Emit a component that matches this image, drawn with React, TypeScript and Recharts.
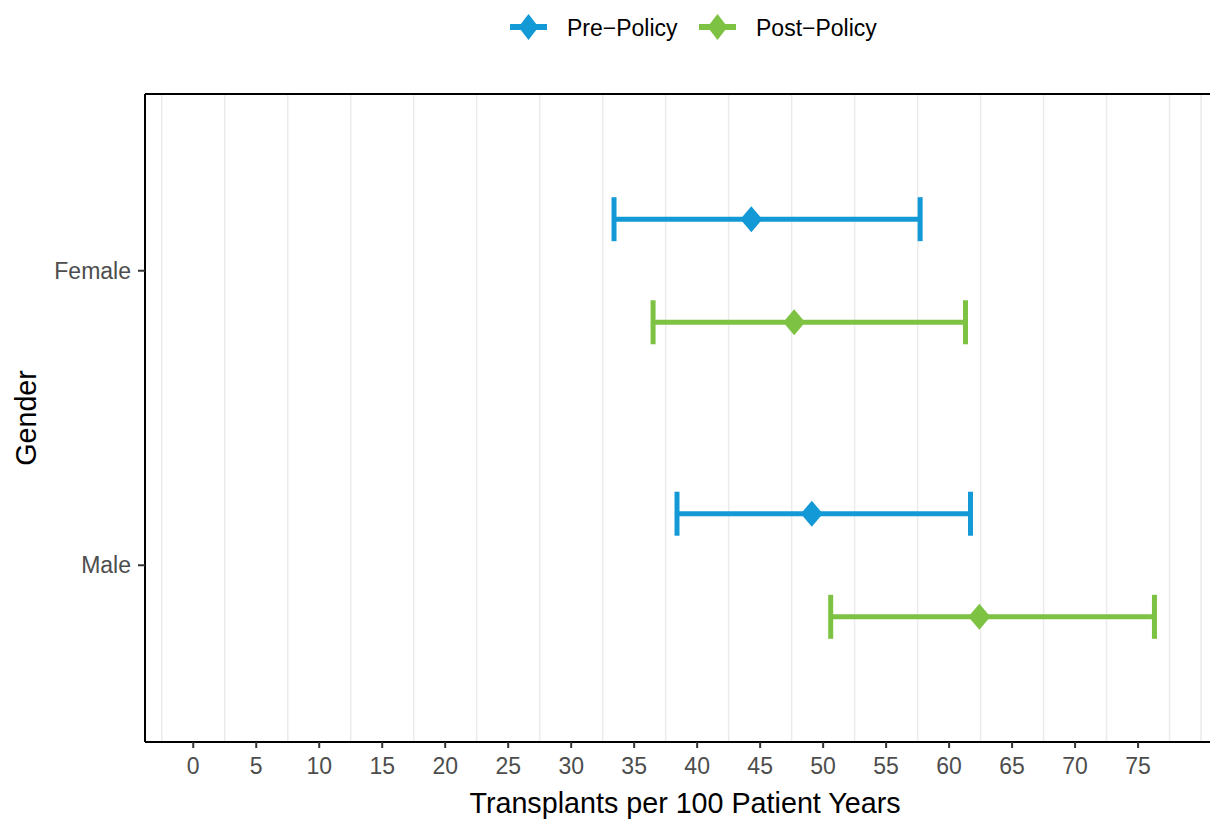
import {
  ScatterChart,
  Scatter,
  XAxis,
  YAxis,
  ErrorBar,
  ReferenceLine,
} from 'recharts';

// values
const genders = ['Female', 'Male'];
const preMean = [44.3, 49.1];
const preLow = [33.4, 38.4];
const preHigh = [57.7, 61.7];
const postMean = [47.7, 62.4];
const postLow = [36.5, 50.6];
const postHigh = [61.3, 76.3];

const xTicks = [0, 5, 10, 15, 20, 25, 30, 35, 40, 45, 50, 55, 60, 65, 70, 75];
const gridValues = [-2.5, 2.5, 7.5, 12.5, 17.5, 22.5, 27.5, 32.5, 37.5, 42.5, 47.5, 52.5, 57.5, 62.5, 67.5, 72.5, 77.5, 80];

const PRE_COLOR = '#139ad6';
const POST_COLOR = '#7dc242';
const FONT = '"Liberation Sans", Arial, Helvetica, sans-serif';

// Female on top, Male below; dodge like position_dodge(0.35)
const genderPos = (i: number) => genders.length - i;
const DODGE = 0.175;

const buildRows = (mean: number[], low: number[], high: number[], shift: number) =>
  genders.map((g, i) => ({
    gender: g,
    x: mean[i],
    y: genderPos(i) + shift,
    err: [mean[i] - low[i], high[i] - mean[i]],
  }));

const preData = buildRows(preMean, preLow, preHigh, DODGE);
const postData = buildRows(postMean, postLow, postHigh, -DODGE);

const Diamond = (color: string) => (props: any) => {
  const { cx, cy } = props;
  if (cx == null || cy == null) return null;
  return (
    <polygon
      points={`${cx},${cy - 13} ${cx + 11},${cy} ${cx},${cy + 13} ${cx - 11},${cy}`}
      fill={color}
    />
  );
};

function LegendKey({ x, color, label }: { x: number; color: string; label: string }) {
  return (
    <g>
      <line x1={x} y1={27} x2={x + 37} y2={27} stroke={color} strokeWidth={6} />
      <polygon
        points={`${x + 18.5},${14} ${x + 28.5},${27} ${x + 18.5},${40} ${x + 8.5},${27}`}
        fill={color}
      />
      <text x={x + 57} y={35.5} fontSize={23} fill="#000" fontFamily={FONT}>
        {label}
      </text>
    </g>
  );
}

export default function App() {
  return (
    <div
      style={{
        position: 'absolute',
        left: 0,
        top: 0,
        width: 1210,
        height: 819,
        overflow: 'hidden',
        background: '#fff',
        fontFamily: FONT,
      }}
    >
      <svg width={1210} height={60} style={{ position: 'absolute', left: 0, top: 0 }}>
        <LegendKey x={510} color={PRE_COLOR} label="Pre−Policy" />
        <LegendKey x={699} color={POST_COLOR} label="Post−Policy" />
      </svg>
      <div style={{ position: 'absolute', left: 0, top: 0 }}>
        <ScatterChart
          width={1240}
          height={819}
          margin={{ top: 94, right: 15, bottom: 0, left: 0 }}
        >
          {gridValues.map((v) => (
            <ReferenceLine key={v} x={v} stroke="#ebebeb" strokeWidth={1.5} />
          ))}
          <ReferenceLine y={2.6} stroke="#000" strokeWidth={2} />
          <XAxis
            type="number"
            dataKey="x"
            domain={[-3.83, 81.9]}
            allowDataOverflow
            ticks={xTicks}
            interval={0}
            height={77}
            axisLine={{ stroke: '#000', strokeWidth: 2 }}
            tickLine={{ stroke: '#333', strokeWidth: 2 }}
            tickSize={6}
            tickMargin={10}
            tick={{ fill: '#4d4d4d', fontSize: 23, fontFamily: FONT }}
            label={{
              value: 'Transplants per 100 Patient Years',
              position: 'insideBottom',
              offset: 6,
              fill: '#000',
              fontSize: 28.7,
              fontFamily: FONT,
            }}
          />
          <YAxis
            type="number"
            dataKey="y"
            domain={[0.4, 2.6]}
            allowDataOverflow
            ticks={[2, 1]}
            interval={0}
            width={145}
            axisLine={{ stroke: '#000', strokeWidth: 2 }}
            tickLine={{ stroke: '#333', strokeWidth: 2 }}
            tickSize={7}
            tickMargin={7}
            tickFormatter={(v: number) => genders[genders.length - v] ?? ''}
            tick={{ fill: '#4d4d4d', fontSize: 23, fontFamily: FONT }}
            label={{
              value: 'Gender',
              angle: -90,
              position: 'insideLeft',
              offset: 26,
              style: { textAnchor: 'middle' },
              fill: '#000',
              fontSize: 28.7,
              fontFamily: FONT,
            }}
          />
          <Scatter
            name="Pre−Policy"
            data={preData}
            fill={PRE_COLOR}
            shape={Diamond(PRE_COLOR)}
            isAnimationActive={false}
          >
            <ErrorBar
              dataKey="err"
              direction="x"
              width={22}
              stroke={PRE_COLOR}
              strokeWidth={5}
              isAnimationActive={false}
            />
          </Scatter>
          <Scatter
            name="Post−Policy"
            data={postData}
            fill={POST_COLOR}
            shape={Diamond(POST_COLOR)}
            isAnimationActive={false}
          >
            <ErrorBar
              dataKey="err"
              direction="x"
              width={22}
              stroke={POST_COLOR}
              strokeWidth={5}
              isAnimationActive={false}
            />
          </Scatter>
        </ScatterChart>
      </div>
    </div>
  );
}
